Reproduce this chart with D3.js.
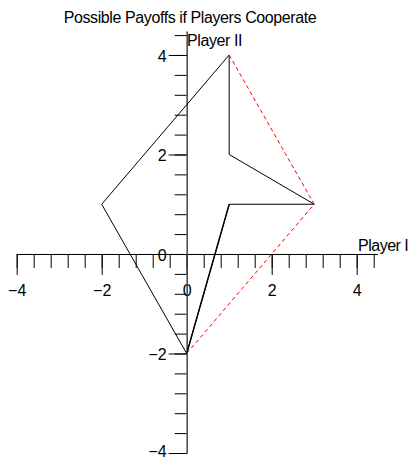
<!DOCTYPE html>
<html>
<head>
<meta charset="utf-8">
<script src="https://cdn.jsdelivr.net/npm/d3@7"></script>
<style>
  body { margin: 0; background: #fff; }
  svg text { font-family: "Liberation Sans", Arial, sans-serif; fill: #000; }
</style>
</head>
<body>
<script>
//////////////// Datas ////////////////////
var title = "Possible Payoffs if Players Cooperate";
var xLabel = "Player I";
var yLabel = "Player II";

// payoff region outline (Player I, Player II)
var region = [
  {x: -2, y:  1},
  {x:  1, y:  4},
  {x:  1, y:  2},
  {x:  3, y:  1},
  {x:  1, y:  1},
  {x:  0, y: -2},
  {x: -2, y:  1}
];
// pareto boundary, dashed
var boundary = [
  {x: 1, y:  4},
  {x: 3, y:  1},
  {x: 0, y: -2}
];
// the edge that is drawn twice
var doubled = [
  {x: 1, y:  1},
  {x: 0, y: -2}
];

var majorTicks = [-4, -2, 0, 2, 4];
var minorTicks = [-4, -3.6, -3.2, -2.8, -2.4, -2, -1.6, -1.2, -0.8, -0.4, 0,
                  0.4, 0.8, 1.2, 1.6, 2, 2.4, 2.8, 3.2, 3.6, 4, 4.4];

var width = 408, height = 461;

////////////////// Scaling ////////////
var xScale = d3.scaleLinear().domain([-4, 4.48]).range([16.7, 377.1]);
var yScale = d3.scaleLinear().domain([-4, 4.48]).range([453, 31.1]);

function fmt(d) { return d < 0 ? "\u2212" + Math.abs(d) : "" + d; }

//////////////// SVG ////////////////////
var svg = d3.select("body")
  .append("svg")
  .attr("width", width)
  .attr("height", height);

svg.append("text")
  .attr("x", 190)
  .attr("y", 23)
  .attr("text-anchor", "middle")
  .style("font-size", "16px")
  .style("letter-spacing", "-0.4px")
  .text(title);

//////////// Axen /////////////
var xMinor = svg.append("g")
  .attr("transform", "translate(0," + yScale(0) + ")")
  .call(d3.axisBottom(xScale).tickValues(minorTicks).tickSize(14).tickSizeOuter(0).tickFormat(""));
var xMajor = svg.append("g")
  .attr("transform", "translate(0," + yScale(0) + ")")
  .call(d3.axisBottom(xScale).tickValues(majorTicks).tickSize(21).tickSizeOuter(0)
        .tickPadding(10).tickFormat(fmt));

var yMinor = svg.append("g")
  .attr("transform", "translate(" + xScale(0) + ",0)")
  .call(d3.axisLeft(yScale).tickValues(minorTicks).tickSize(12).tickSizeOuter(0).tickFormat(""));
var yMajor = svg.append("g")
  .attr("transform", "translate(" + xScale(0) + ",0)")
  .call(d3.axisLeft(yScale).tickValues(majorTicks).tickSize(18).tickSizeOuter(0)
        .tickPadding(2).tickFormat(fmt));

svg.selectAll(".domain, .tick line").attr("stroke", "#000");
yMajor.select(".domain").attr("stroke", "#555");
svg.selectAll(".tick text")
  .style("font-size", "16px")
  .style("font-family", "'Liberation Sans', Arial, sans-serif");
yMajor.selectAll(".tick text")
  .attr("dy", function(d) { return d === -4 ? "0.2em" : "0.38em"; });

svg.append("text")
  .attr("x", 358)
  .attr("y", 251)
  .style("font-size", "16px")
  .style("letter-spacing", "-0.5px")
  .text(xLabel);

svg.append("text")
  .attr("x", 187)
  .attr("y", 46)
  .style("font-size", "16px")
  .style("letter-spacing", "-0.4px")
  .text(yLabel);

//////////////// Region ////////////////
var line = d3.line()
  .x(function(d) { return xScale(d.x); })
  .y(function(d) { return yScale(d.y); });

svg.append("path")
  .datum(region)
  .attr("d", line)
  .attr("fill", "none")
  .attr("stroke", "#000")
  .attr("stroke-width", 1);

svg.append("path")
  .datum(doubled)
  .attr("d", line)
  .attr("fill", "none")
  .attr("stroke", "#000")
  .attr("stroke-width", 1.4);

svg.append("path")
  .datum(boundary)
  .attr("d", line)
  .attr("fill", "none")
  .attr("stroke", "red")
  .attr("stroke-width", 1)
  .attr("stroke-dasharray", "4,3");
</script>
</body>
</html>
